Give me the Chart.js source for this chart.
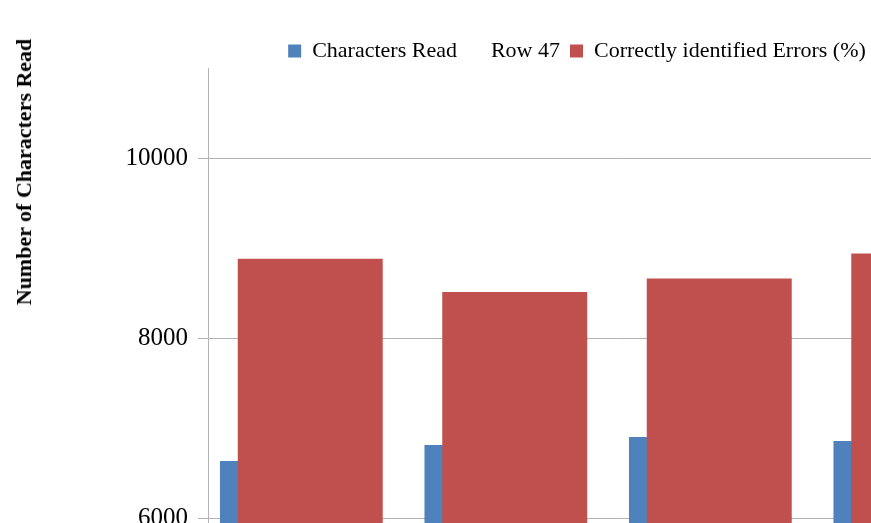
<!DOCTYPE html>
<html>
<head>
<meta charset="utf-8">
<script src="https://cdn.jsdelivr.net/npm/chart.js@4/dist/chart.umd.min.js"></script>
<style>
  html, body { margin: 0; padding: 0; background: #fff; overflow: hidden; }
  #wrap { position: relative; width: 871px; height: 523px; overflow: hidden; }
  #c { position: absolute; left: 0; top: 0; }
  #ytitle {
    position: absolute; left: 24px; top: 172px;
    transform: translate(-50%, -50%) rotate(-90deg);
    font: bold 22px "Liberation Serif", serif; color: #000; white-space: nowrap;
  }
</style>
</head>
<body>
<div id="wrap">
  <canvas id="c" width="1154" height="608" style="width:1154px;height:608px"></canvas>
  <div id="ytitle">Number of Characters Read</div>
</div>
<script>
// Test runs (one group of bars each)
const categories = ['Test 1', 'Test 2', 'Test 3', 'Test 4'];
// Number of characters read per run
const charactersRead = [6633, 6811, 6900, 6856];
// Empty spreadsheet row kept as its own series
const row47 = [null, null, null, null];
// Share of errors that were correctly identified, in percent
const correctErrorsPct = [88.8, 85.1, 86.6, 89.4];
// Labelled values on the left axis
const yTicks = [6000, 8000, 10000];

const serif = '"Liberation Serif", "Times New Roman", serif';
const gridGrey = '#b3b3b3';

// Vertical axes here take no extra room for half-label overhang
const noLabelOverhang = (scale) => { scale.paddingTop = 0; scale.paddingBottom = 0; };

// Pulls the plot a little closer to the legend row
const tightLegend = {
  id: 'tightLegend',
  beforeLayout(chart) {
    const lg = chart.legend;
    if (lg && !lg._tight) {
      const fit = lg.fit.bind(lg);
      lg.fit = function () { fit(); this.height -= 4; };
      lg._tight = true;
    }
  }
};

new Chart(document.getElementById('c'), {
  type: 'bar',
  data: {
    labels: categories,
    datasets: [
      {
        label: 'Characters Read',
        data: charactersRead,
        backgroundColor: '#4f81bd',
        borderWidth: 0,
        yAxisID: 'y',
        categoryPercentage: 0.883,
        barPercentage: 1.0,
        order: 1
      },
      {
        label: 'Row 47',
        data: row47,
        backgroundColor: 'rgba(0,0,0,0)',
        borderColor: 'rgba(0,0,0,0)',
        borderWidth: 0,
        yAxisID: 'y',
        categoryPercentage: 0.883,
        barPercentage: 1.0,
        order: 1
      },
      {
        label: 'Correctly identified Errors (%)',
        data: correctErrorsPct,
        backgroundColor: '#c0504d',
        borderWidth: 0,
        yAxisID: 'y2',
        grouped: false,
        categoryPercentage: 0.709,
        barPercentage: 1.0,
        order: 0
      }
    ]
  },
  plugins: [tightLegend],
  options: {
    responsive: false,
    animation: false,
    layout: { padding: { left: 0, right: 0, top: 30, bottom: 0 } },
    plugins: {
      tooltip: { enabled: false },
      legend: {
        position: 'top',
        align: 'center',
        labels: {
          font: { family: serif, size: 22 },
          color: '#000',
          boxWidth: 13,
          boxHeight: 13,
          padding: 10,
          sort: (a, b) => a.datasetIndex - b.datasetIndex
        }
      }
    },
    scales: {
      x: {
        display: false,
        offset: true,
        grid: { display: false }
      },
      y: {
        position: 'left',
        min: 5000,
        max: 11000,
        afterBuildTicks: (scale) => { scale.ticks = yTicks.map(v => ({ value: v })); },
        afterFit: (scale) => { scale.width = 208; noLabelOverhang(scale); },
        border: { color: gridGrey, width: 1 },
        grid: { color: gridGrey, lineWidth: 1, tickLength: 10, drawTicks: true },
        ticks: {
          font: { family: serif, size: 25 },
          color: '#000',
          padding: 10,
          callback: (v) => String(v)
        }
      },
      // Percent axis for the error share; its labels lie past the right edge
      y2: {
        display: true,
        position: 'right',
        min: 50,
        max: 110,
        afterFit: (scale) => { scale.width = 128; noLabelOverhang(scale); },
        border: { display: false },
        grid: { display: false, drawTicks: false },
        ticks: { display: false }
      }
    }
  }
});
</script>
</body>
</html>
